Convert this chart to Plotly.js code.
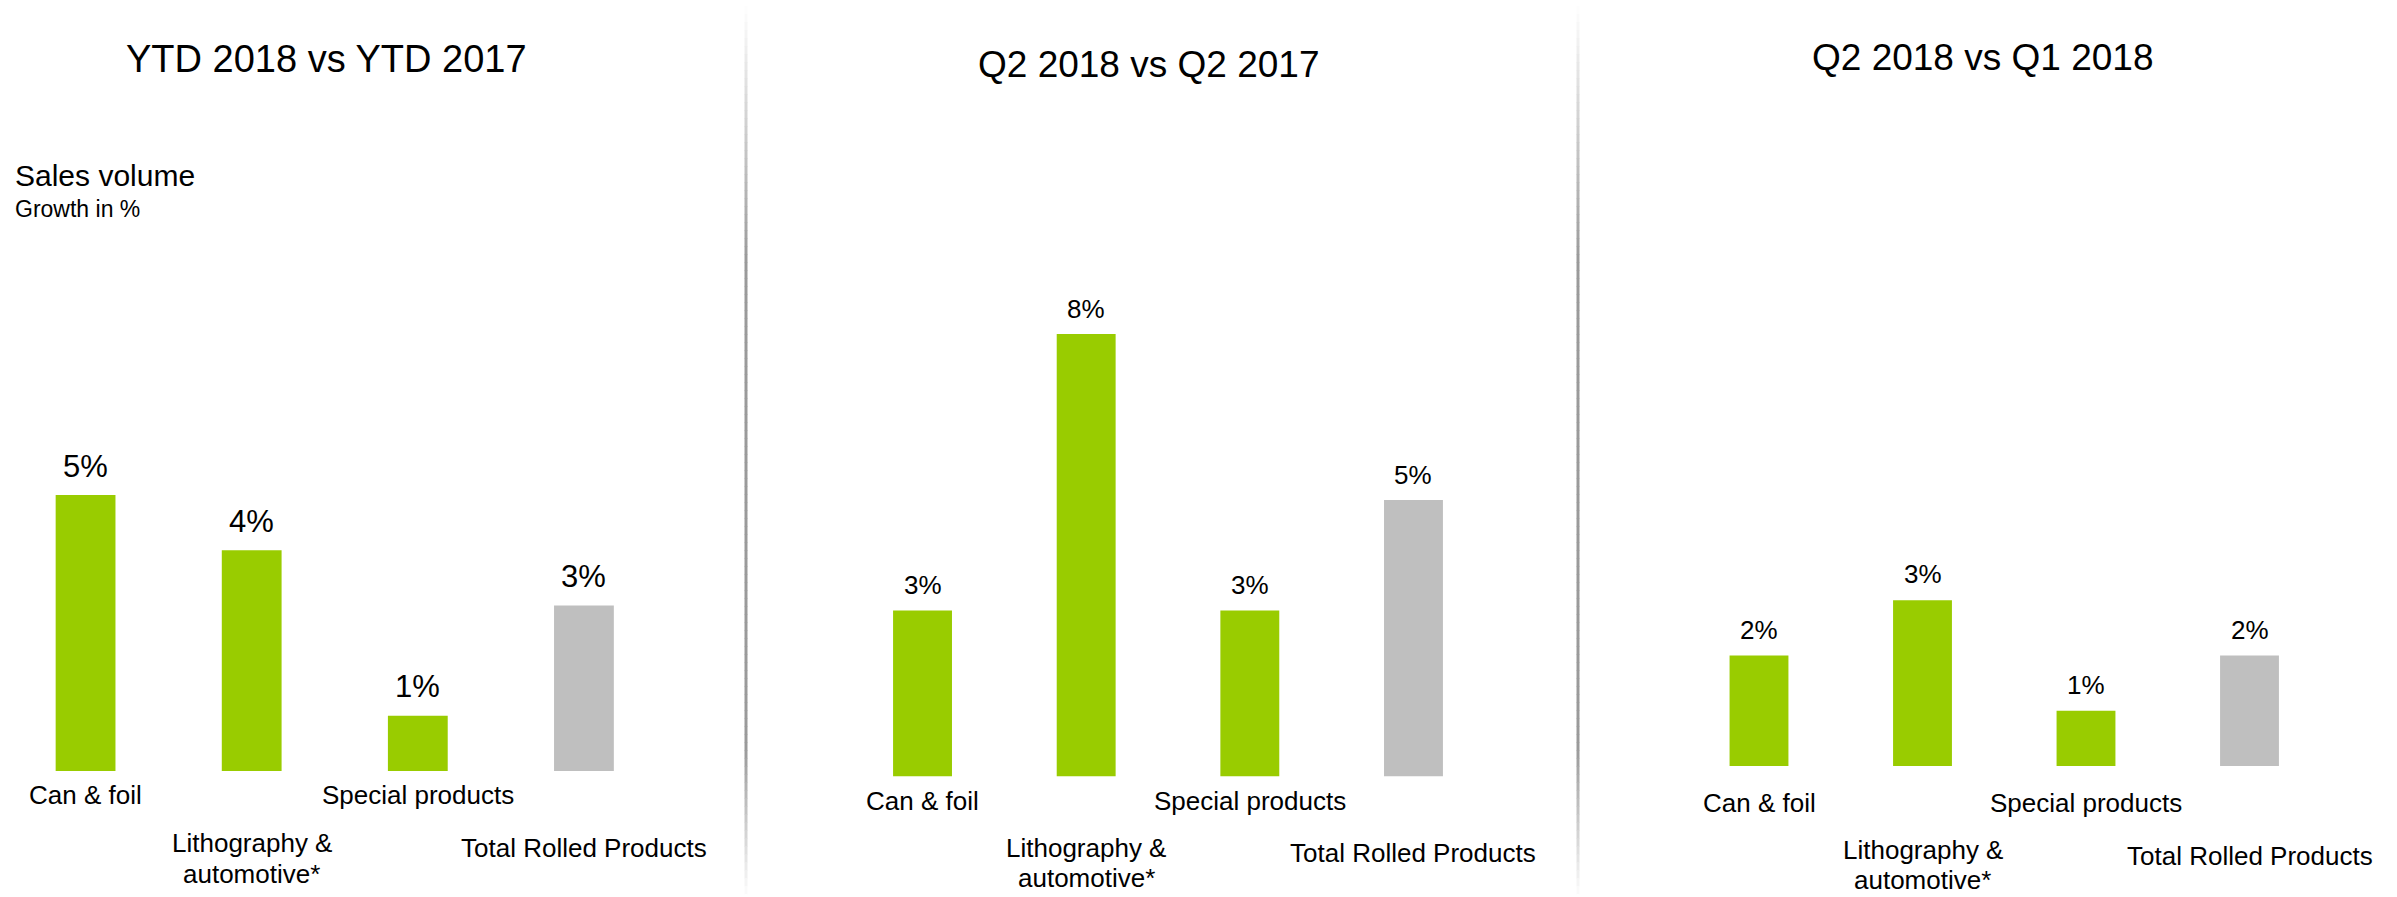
<!DOCTYPE html>
<html>
<head>
<meta charset="utf-8">
<script src="https://cdn.plot.ly/plotly-3.0.1.min.js"></script>
<style>
  html, body { margin: 0; padding: 0; background: #ffffff; }
  #chart { width: 2397px; height: 897px; }
</style>
</head>
<body>
<div id="chart"></div>
<script>
// ---- Data ----
const categories = ['Can & foil', 'Lithography &<br>automotive*', 'Special products', 'Total Rolled Products'];
const ytdGrowth = [5, 4, 1, 3];          // YTD 2018 vs YTD 2017
const q2YoYGrowth = [3, 8, 3, 5];        // Q2 2018 vs Q2 2017
const q2QoQGrowth = [2, 3, 1, 2];        // Q2 2018 vs Q1 2018
const panelTitles = ['YTD 2018 vs YTD 2017', 'Q2 2018 vs Q2 2017', 'Q2 2018 vs Q1 2018'];
const valueSuffix = '%';
const chartTitle = 'Sales volume';
const chartSubtitle = 'Growth in %';

// ---- Styles ----
const W = 2397, H = 897;
const FONT = 'Liberation Sans, Arial, Helvetica, sans-serif';
const GREEN = '#99CC00', GREY = '#BFBFBF';
const barColors = [GREEN, GREEN, GREEN, GREY];
const py = y => 1 - y / H;
const px = x => x / W;

const panels = [
  { values: ytdGrowth, xa: 'x', ya: 'y', xdom: [2.5, 667], ydom: [439.8, 771], yrange: [0, 6],
    title: { base: 72, size: 38, cx: 326 },
    valFont: 31, valShift: 29, labFont: 26, row1: 804, row2: 852, lineGap: 31, singleShift: 5 },
  { values: q2YoYGrowth, xa: 'x2', ya: 'y2', xdom: [840.7, 1495.3], ydom: [278.8, 776.5], yrange: [0, 9],
    title: { base: 77.5, size: 37, cx: 1148 },
    valFont: 26, valShift: 25.5, labFont: 26, row1: 810, row2: 857.5, lineGap: 30, singleShift: 4.5 },
  { values: q2QoQGrowth, xa: 'x3', ya: 'y3', xdom: [1677.25, 2331.25], ydom: [268.4, 766.1], yrange: [0, 9],
    title: { base: 70, size: 37, cx: 1982 },
    valFont: 26, valShift: 26, labFont: 26, row1: 812, row2: 859.5, lineGap: 29.5, singleShift: 5.5 }
];

const data = [];
const annotations = [];
const layout = {
  width: W, height: H,
  margin: { l: 0, r: 0, t: 0, b: 0, pad: 0 },
  paper_bgcolor: '#ffffff', plot_bgcolor: 'rgba(0,0,0,0)',
  showlegend: false,
  bargap: 0.64,
  font: { family: FONT, color: '#000000' },
  annotations: annotations,
  shapes: []
};

panels.forEach((p, i) => {
  data.push({
    type: 'bar', x: categories, y: p.values,
    xaxis: p.xa, yaxis: p.ya,
    marker: { color: barColors, line: { width: 0 } },
    hoverinfo: 'skip'
  });
  const xKey = 'xaxis' + (i === 0 ? '' : (i + 1));
  const yKey = 'yaxis' + (i === 0 ? '' : (i + 1));
  layout[xKey] = {
    domain: [px(p.xdom[0]), px(p.xdom[1])], anchor: p.ya, type: 'category',
    range: [-0.5, categories.length - 0.5],
    showgrid: false, zeroline: false, showline: false, showticklabels: false, ticks: '', fixedrange: true
  };
  layout[yKey] = {
    domain: [py(p.ydom[1]), py(p.ydom[0])], anchor: p.xa, range: p.yrange,
    showgrid: false, zeroline: false, showline: false, showticklabels: false, ticks: '', fixedrange: true
  };
  // panel title
  annotations.push({
    xref: 'paper', yref: 'paper', x: px(p.title.cx), y: py(p.title.base - 0.35 * p.title.size),
    xanchor: 'center', yanchor: 'middle', showarrow: false,
    text: panelTitles[i], font: { family: FONT, size: p.title.size, color: '#000000' }
  });
  // value labels
  p.values.forEach((v, k) => {
    annotations.push({
      xref: p.xa, yref: p.ya, x: categories[k], y: v,
      xanchor: 'center', yanchor: 'middle', yshift: p.valShift, showarrow: false,
      text: v + valueSuffix, font: { family: FONT, size: p.valFont, color: '#000000' }
    });
  });
  // category labels (staggered rows)
  categories.forEach((c, k) => {
    const lines = c.split('<br>');
    let base = (k % 2 === 0) ? p.row1 : p.row2;
    if (k % 2 === 1 && lines.length === 1) base += p.singleShift;
    lines.forEach((line, j) => {
      const bl = base + j * p.lineGap;
      annotations.push({
        xref: p.xa, yref: 'paper', x: c, y: py(bl - 0.35 * p.labFont),
        xanchor: 'center', yanchor: 'middle', showarrow: false,
        text: line, font: { family: FONT, size: p.labFont, color: '#000000' }
      });
    });
  });
});

// Sales volume heading
annotations.push({
  xref: 'paper', yref: 'paper', x: px(13), y: py(186 - 0.35 * 30),
  xanchor: 'left', yanchor: 'middle', showarrow: false,
  text: chartTitle, font: { family: FONT, size: 30, color: '#000000' }
});
annotations.push({
  xref: 'paper', yref: 'paper', x: px(13), y: py(217 - 0.35 * 23),
  xanchor: 'left', yanchor: 'middle', showarrow: false,
  text: chartSubtitle, font: { family: FONT, size: 23, color: '#000000' }
});

// Divider lines with faded ends
function mix(t) { // t=0 white, t=1 grey
  const g0 = 255, g1 = 154;
  const g = Math.round(g0 + (g1 - g0) * t);
  return 'rgb(' + g + ',' + g + ',' + g + ')';
}
[746, 1578].forEach(xd => {
  const step = 8;
  for (let y = 6; y < H; y += step) {
    const yc = y + step / 2;
    let t;
    if (yc < 260) t = (yc - 6) / (260 - 6);
    else if (yc < 750) t = 1;
    else t = Math.max(0, 1 - (yc - 750) / (H - 750));
    layout.shapes.push({
      type: 'line', xref: 'paper', yref: 'paper', layer: 'below',
      x0: px(xd), x1: px(xd), y0: py(y), y1: py(Math.min(H, y + step + 0.5)),
      line: { color: mix(t), width: 3 }
    });
  }
});

Plotly.newPlot('chart', data, layout, { staticPlot: true, displayModeBar: false });
</script>
</body>
</html>
